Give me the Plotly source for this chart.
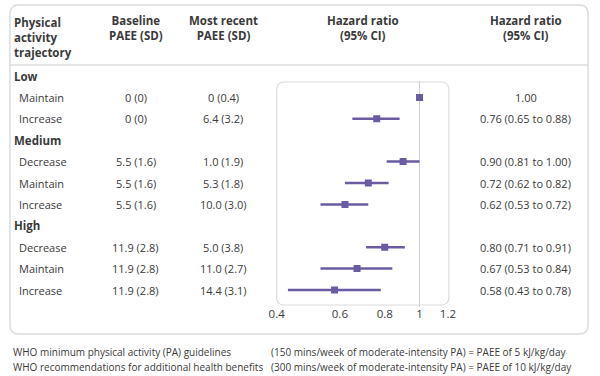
import math
import plotly.graph_objects as go

# ---- data ----
groups = ["Low", "Medium", "High"]
trajectories = [["Maintain", "Increase"],
                ["Decrease", "Maintain", "Increase"],
                ["Decrease", "Maintain", "Increase"]]
baseline_paee = [["0 (0)", "0 (0)"],
                 ["5.5 (1.6)", "5.5 (1.6)", "5.5 (1.6)"],
                 ["11.9 (2.8)", "11.9 (2.8)", "11.9 (2.8)"]]
recent_paee = [["0 (0.4)", "6.4 (3.2)"],
               ["1.0 (1.9)", "5.3 (1.8)", "10.0 (3.0)"],
               ["5.0 (3.8)", "11.0 (2.7)", "14.4 (3.1)"]]
hr = [[1.00, 0.76], [0.90, 0.72, 0.62], [0.80, 0.67, 0.58]]
hr_low = [[None, 0.65], [0.81, 0.62, 0.53], [0.71, 0.53, 0.43]]
hr_high = [[None, 0.88], [1.00, 0.82, 0.72], [0.91, 0.84, 0.78]]
hr_text = [["1.00", "0.76 (0.65 to 0.88)"],
           ["0.90 (0.81 to 1.00)", "0.72 (0.62 to 0.82)", "0.62 (0.53 to 0.72)"],
           ["0.80 (0.71 to 0.91)", "0.67 (0.53 to 0.84)", "0.58 (0.43 to 0.78)"]]
x_ticks = [0.4, 0.6, 0.8, 1, 1.2]
x_tick_labels = ["0.4", "0.6", "0.8", "1", "1.2"]
footer_left = ["WHO minimum physical activity (PA) guidelines",
               "WHO recommendations for additional health benefits"]
footer_right = ["(150 mins/week of moderate-intensity PA) = PAEE of 5 kJ/kg/day",
                "(300 mins/week of moderate-intensity PA) = PAEE of 10 kJ/kg/day"]

# ---- layout constants (pixels) ----
W, H = 600, 376
FONT = "Open Sans"
TXT = "#3a3a3a"
PURPLE = "#6a5ba3"
GRID = "#dcdcdc"
ROW0, DY = 76, 21.4

def px(x):
    return x / W

def py(y):
    return 1 - y / H

fig = go.Figure()
ann = []

def A(x, y, text, size=11.5, bold=False, xanchor="center", color=TXT):
    ann.append(dict(x=px(x), y=py(y), xref="paper", yref="paper",
                    text=("<b>%s</b>" % text) if bold else text,
                    showarrow=False, xanchor=xanchor, yanchor="middle",
                    align=xanchor if xanchor != "center" else "center",
                    borderpad=0, borderwidth=0,
                    font=dict(family=FONT, size=size, color=color)))

# headers
A(6, 37, "Physical<br>activity<br>trajectory", bold=True, xanchor="left")
A(131, 28, "Baseline<br>PAEE (SD)", bold=True)
A(221, 28, "Most recent<br>PAEE (SD)", bold=True)
A(365, 28, "Hazard ratio<br>(95% CI)", bold=True)
A(532, 28, "Hazard ratio<br>(95% CI)", bold=True)

# rows
pt_x, pt_y, ln_x, ln_y = [], [], [], []
row = 0
for g, name in enumerate(groups):
    A(6, ROW0 + DY * row, name, bold=True, xanchor="left")
    row += 1
    for k, t in enumerate(trajectories[g]):
        y = ROW0 + DY * row
        A(11, y, t, size=11, xanchor="left")
        A(131, y, baseline_paee[g][k], size=11)
        A(221, y, recent_paee[g][k], size=11)
        A(532, y, hr_text[g][k], size=11)
        pt_x.append(hr[g][k]); pt_y.append(y)
        if hr_low[g][k] is not None:
            ln_x += [hr_low[g][k], hr_high[g][k], None]
            ln_y += [y, y, None]
        row += 1

# footer
for i in range(2):
    A(5, 352 + 15 * i, footer_left[i], size=10, xanchor="left")
    A(270, 352 + 15 * i, footer_right[i], size=10, xanchor="left")

# reference line at 1
fig.add_trace(go.Scatter(x=[1, 1], y=[81, 307], mode="lines", xaxis="x", yaxis="y",
                         line=dict(color="#cfcfcf", width=1), hoverinfo="skip"))
fig.add_trace(go.Scatter(x=ln_x, y=ln_y, mode="lines", xaxis="x", yaxis="y",
                         line=dict(color=PURPLE, width=2.5), hoverinfo="skip"))
fig.add_trace(go.Scatter(x=pt_x, y=pt_y, mode="markers", xaxis="x", yaxis="y",
                         marker=dict(symbol="square", size=7, color=PURPLE)))

def rrect(x0, y0, x1, y1, r):
    X = lambda v: f"{px(v):.5f}"
    Y = lambda v: f"{py(v):.5f}"
    return (f"M{X(x0+r)},{Y(y0)} L{X(x1-r)},{Y(y0)} Q{X(x1)},{Y(y0)} {X(x1)},{Y(y0+r)} "
            f"L{X(x1)},{Y(y1-r)} Q{X(x1)},{Y(y1)} {X(x1-r)},{Y(y1)} "
            f"L{X(x0+r)},{Y(y1)} Q{X(x0)},{Y(y1)} {X(x0)},{Y(y1-r)} "
            f"L{X(x0)},{Y(y0+r)} Q{X(x0)},{Y(y0)} {X(x0+r)},{Y(y0)} Z")

shapes = [
    dict(type="path", path=rrect(2, 5, 596, 334, 9), xref="paper", yref="paper",
         line=dict(color=GRID, width=1.5), layer="below"),
    dict(type="line", x0=px(2), x1=px(596), y0=py(65), y1=py(65), xref="paper", yref="paper",
         line=dict(color=GRID, width=1.5), layer="below"),
    dict(type="path", path=rrect(276, 82, 453, 305, 8), xref="paper", yref="paper",
         line=dict(color=GRID, width=1.2), layer="below"),
]

fig.update_layout(
    width=W, height=H, autosize=False, margin=dict(l=0, r=0, t=0, b=0),
    paper_bgcolor="white", plot_bgcolor="rgba(0,0,0,0)", showlegend=False,
    annotations=ann, shapes=shapes,
    xaxis=dict(type="log", domain=[276 / W, 452 / W],
               range=[math.log10(0.4), math.log10(1.2)],
               anchor="free", position=(H - 305) / H,
               tickvals=x_ticks, ticktext=x_tick_labels, ticks="", showgrid=False,
               zeroline=False, showline=False, fixedrange=True,
               tickfont=dict(family=FONT, size=11.5, color=TXT)),
    yaxis=dict(domain=[0, 1], range=[H, 0], visible=False, fixedrange=True),
)
post = (
    "document.documentElement.style.margin='0';"
    "document.body.style.margin='0';document.body.style.padding='0';"
    "document.body.style.overflow='hidden';"
    "try{var gd=document.getElementById('{plot_id}');"
    "gd.style.width='600px';gd.style.height='376px';"
    "Plotly.relayout(gd,{width:600,height:376});}catch(e){}"
)
fig.write_html("out.html", config={"displayModeBar": False, "responsive": False},
               post_script=post)
